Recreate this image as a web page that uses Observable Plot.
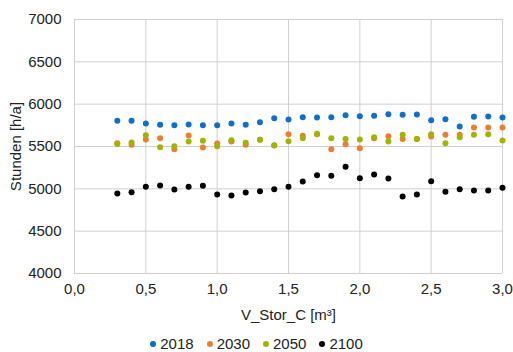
<!DOCTYPE html>
<html>
<head>
<meta charset="utf-8">
<script src="https://cdn.jsdelivr.net/npm/d3@7"></script>
<script src="https://cdn.jsdelivr.net/npm/@observablehq/plot@0.6"></script>
<style>
  body { margin: 0; background: #fff; font-family: "Liberation Sans", Arial, sans-serif; }
  #chart { width: 513px; height: 352px; position: relative; }
  .legend { position: absolute; left: 0; top: 335px; width: 513px; height: 17px; line-height: 17px; display: flex; justify-content: center; align-items: center; font-size: 15px; color: #222; }
  .legend span.item { display: inline-flex; align-items: center; margin: 0 6.5px; }
  .legend span.sw { width: 6px; height: 6px; border-radius: 50%; display: inline-block; margin-right: 4px; }
</style>
</head>
<body>
<div id="chart"></div>
<script>
const xValues = [0.3,0.4,0.5,0.6,0.7,0.8,0.9,1.0,1.1,1.2,1.3,1.4,1.5,1.6,1.7,1.8,1.9,2.0,2.1,2.2,2.3,2.4,2.5,2.6,2.7,2.8,2.9,3.0];
const seriesNames = ["2018","2030","2050","2100"];
const seriesColors = ["#0F6FCB","#ED7D31","#A2B400","#000000"];
const v2018 = [5803,5803,5772,5756,5752,5760,5752,5752,5772,5756,5787,5834,5819,5846,5842,5846,5870,5858,5863,5882,5874,5878,5811,5822,5736,5851,5854,5842];
const v2030 = [5539,5520,5583,5598,5468,5630,5488,5535,5559,5520,5579,5512,5646,5626,5646,5468,5528,5480,5598,5622,5590,5590,5618,5638,5638,5724,5724,5724];
const v2050 = [5531,5547,5634,5492,5504,5559,5567,5504,5575,5543,5579,5516,5563,5598,5650,5598,5590,5583,5610,5559,5638,5590,5646,5539,5610,5638,5646,5571];
const v2100 = [4945,4961,5024,5039,4992,5024,5035,4933,4921,4957,4972,4996,5024,5087,5161,5154,5260,5126,5169,5122,4909,4933,5091,4965,4996,4980,4980,5012];
const xTicks = [0,0.5,1,1.5,2,2.5,3];
const yTicks = [4000,4500,5000,5500,6000,6500,7000];

const allSeries = [v2018, v2030, v2050, v2100];
const data = [];
allSeries.forEach((vals, si) => vals.forEach((v, i) => data.push({x: xValues[i], y: v, s: seriesNames[si]})));

const fmtX = d => d.toFixed(1).replace(".", ",");
const fmtY = d => String(d);

const plot = Plot.plot({
  width: 513,
  height: 330,
  marginLeft: 74,
  marginRight: 11,
  marginTop: 19,
  marginBottom: 57,
  style: {fontFamily: "Liberation Sans, Arial, sans-serif", fontSize: "15px", color: "#222", background: "#fff"},
  x: {domain: [0, 3], ticks: xTicks, tickFormat: fmtX, label: null},
  y: {domain: [4000, 7000], ticks: yTicks, tickFormat: fmtY, label: null},
  color: {domain: seriesNames, range: seriesColors},
  marks: [
    Plot.gridX(xTicks, {stroke: "#d0d0d0", strokeOpacity: 1, strokeWidth: 1}),
    Plot.gridY(yTicks, {stroke: "#d0d0d0", strokeOpacity: 1, strokeWidth: 1}),
    Plot.axisX({ticks: xTicks, tickFormat: fmtX, tickSize: 0, tickPadding: 10, fontSize: 15, label: "V_Stor_C [m³]", labelAnchor: "center", labelOffset: 46, labelArrow: "none"}),
    Plot.axisY({ticks: yTicks, tickFormat: fmtY, tickSize: 0, tickPadding: 13, fontSize: 15, label: "Stunden [h/a]", labelAnchor: "center", labelOffset: 64, labelArrow: "none"}),
    Plot.dot(data, {x: "x", y: "y", fill: "s", r: 3, stroke: null})
  ]
});

const chart = document.getElementById("chart");
chart.appendChild(plot);

const legend = document.createElement("div");
legend.className = "legend";
seriesNames.forEach((n, i) => {
  const item = document.createElement("span");
  item.className = "item";
  const sw = document.createElement("span");
  sw.className = "sw";
  sw.style.background = seriesColors[i];
  item.appendChild(sw);
  item.appendChild(document.createTextNode(n));
  legend.appendChild(item);
});
chart.appendChild(legend);
</script>
</body>
</html>
